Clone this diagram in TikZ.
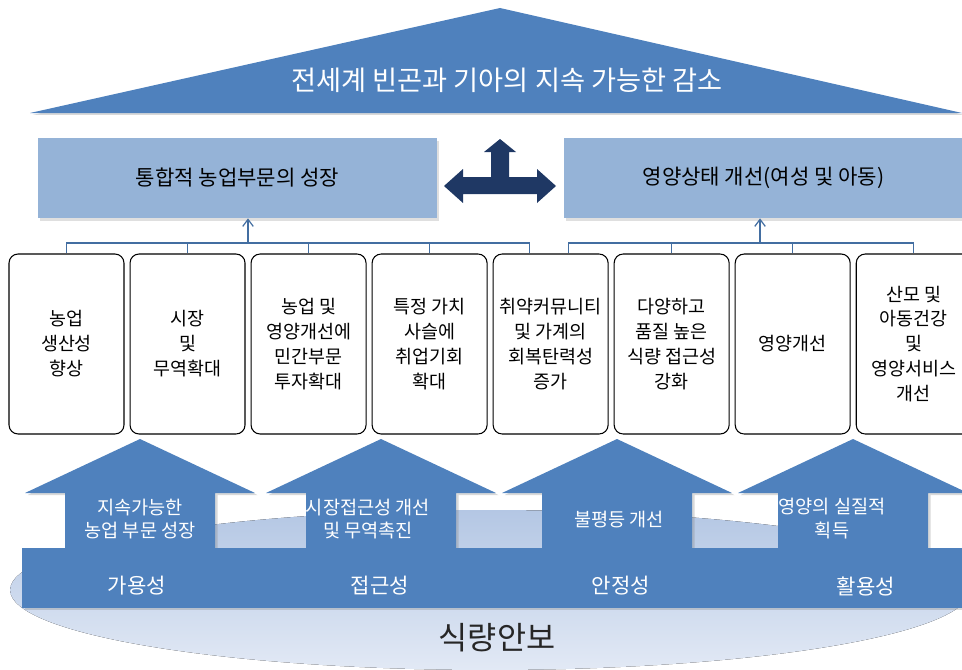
\documentclass[tikz,border=0pt]{standalone}
\usepackage{fontspec}
\setmainfont{Noto Sans CJK KR}
\usetikzlibrary{arrows.meta, positioning, shapes.geometric, calc, shadows}
\definecolor{fsBlue}{HTML}{4F81BD}
\definecolor{fsLight}{HTML}{95B3D7}
\definecolor{fsNavy}{HTML}{1F3864}
\definecolor{fsPale}{HTML}{B4C7E4}
\definecolor{fsMist}{HTML}{E2E9F5}
\tikzset{
  goal/.style = {
    fill=fsLight,
    minimum width=7.98cm,
    minimum height=1.6cm,
    font=\fontsize{12}{14}\selectfont,
    drop shadow={opacity=.25, shadow xshift=.04cm, shadow yshift=-.06cm},
  },
  result/.style = {
    draw,
    line width=.6pt,
    rounded corners=.18cm,
    align=center,
    inner sep=0pt,
    minimum width=2.3cm,
    minimum height=3.6cm,
    font=\fontsize{10.5}{14.2}\selectfont,
  },
  link/.style = {
    draw=fsBlue!85!black,
    line width=.7pt,
  },
  feeds/.style = {
    link,
    -{Straight Barb[length=4pt, width=6pt]},
  },
  onBlue/.style = {
    text=white,
    align=center,
  },
  node distance=1cm and .1cm,
}

\begin{document}
\begin{tikzpicture}[
  x=.02cm, y=-.02cm,
  pillar/.style = {
    fill=fsBlue,
    drop shadow={opacity=.3, shadow xshift=.05cm, shadow yshift=-.04cm},
  },
  cross/.style = {fill=fsNavy},
  pillarText/.style = {onBlue, font=\fontsize{10.6}{13.6}\selectfont},
  bandText/.style = {onBlue, font=\fontsize{12}{14}\selectfont},
]
\useasboundingbox (0,0) rectangle (962,669);

\fill[top color=fsPale, bottom color=fsMist] (490,590) ellipse [x radius=9.6cm, y radius=1.6cm];

\foreach \cx in {140, 381, 617, 853}
  \fill[pillar] (\cx-75,550) -- (\cx-75,493) -- (\cx-115,493) -- (\cx,439)
    -- (\cx+115,493) -- (\cx+75,493) -- (\cx+75,550) -- cycle;
\fill[pillar] (22,548) rectangle (962,608);

\node[pillarText] (sustain) at (140,519) {지속가능한\\농업 부문 성장};
\node[pillarText] (market) at (368,519) {시장접근성 개선\\및 무역촉진};
\node[pillarText] (equity) at (619,520) {불평등 개선};
\node[pillarText] (intake) at (832,519) {영양의 실질적\\획득};

\node[bandText] (avail) at (137,586) {가용성};
\node[bandText] (access) at (380,586) {접근성};
\node[bandText] (stable) at (621,586) {안정성};
\node[bandText] (usage) at (866,586) {활용성};

\node[font=\fontsize{18}{20}\selectfont, text=black!85] (security) at (497,638) {식량안보};

\fill[pillar] (30,113) -- (500,8) -- (962,113) -- cycle;
\node[onBlue, font=\fontsize{15.5}{18}\selectfont] (vision) at (507,80)
  {전세계 빈곤과 기아의 지속 가능한 감소};

\node[goal] (growth) at (237.5,178) {통합적 농업부문의 성장};
\node[goal] (nutrition) at (763.5,178) {영양상태 개선(여성 및 아동)};

\fill[cross] (444,186) -- (463,169) -- (463,177) -- (491,177) -- (491,152)
  -- (484,152) -- (500,139) -- (516,152) -- (509,152) -- (509,177)
  -- (537,177) -- (537,169) -- (556,186) -- (537,203) -- (537,194)
  -- (463,194) -- (463,203) -- cycle;

\node[result] (prod) at (66.5,344) {농업\\생산성\\향상};
\node[result, right=of prod] (trade) {시장\\및\\무역확대};
\node[result, right=of trade] (invest) {농업 및\\영양개선에\\민간부문\\투자확대};
\node[result, right=of invest] (chain) {특정 가치\\사슬에\\취업기회\\확대};
\node[result, right=of chain] (resil) {취약커뮤니티\\및 가계의\\회복탄력성\\증가};
\node[result, right=of resil] (diet) {다양하고\\품질 높은\\식량 접근성\\강화};
\node[result, right=of diet] (nutri) {영양개선};
\node[result, right=of nutri] (health) {산모 및\\아동건강\\및\\영양서비스\\개선};

\coordinate (lbar) at (0,243);
\coordinate (resilL) at ($(resil.north)+(-21.5,0)$);
\coordinate (resilR) at ($(resil.north)+(17.5,0)$);
\coordinate (lfeed) at (248,243);
\coordinate (rfeed) at (760,243);

\draw[link] (prod.north) -- (prod.north |- lbar) -- (resilL |- lbar) -- (resilL);
\foreach \n in {trade, invest, chain}
  \draw[link] (\n.north) -- (\n.north |- lbar);
\draw[feeds] (lfeed) -- (lfeed |- growth.south);

\draw[link] (resilR) -- (resilR |- lbar) -- (health.north |- lbar) -- (health.north);
\foreach \n in {diet, nutri}
  \draw[link] (\n.north) -- (\n.north |- lbar);
\draw[feeds] (rfeed) -- (rfeed |- nutrition.south);

\end{tikzpicture}
\end{document}
